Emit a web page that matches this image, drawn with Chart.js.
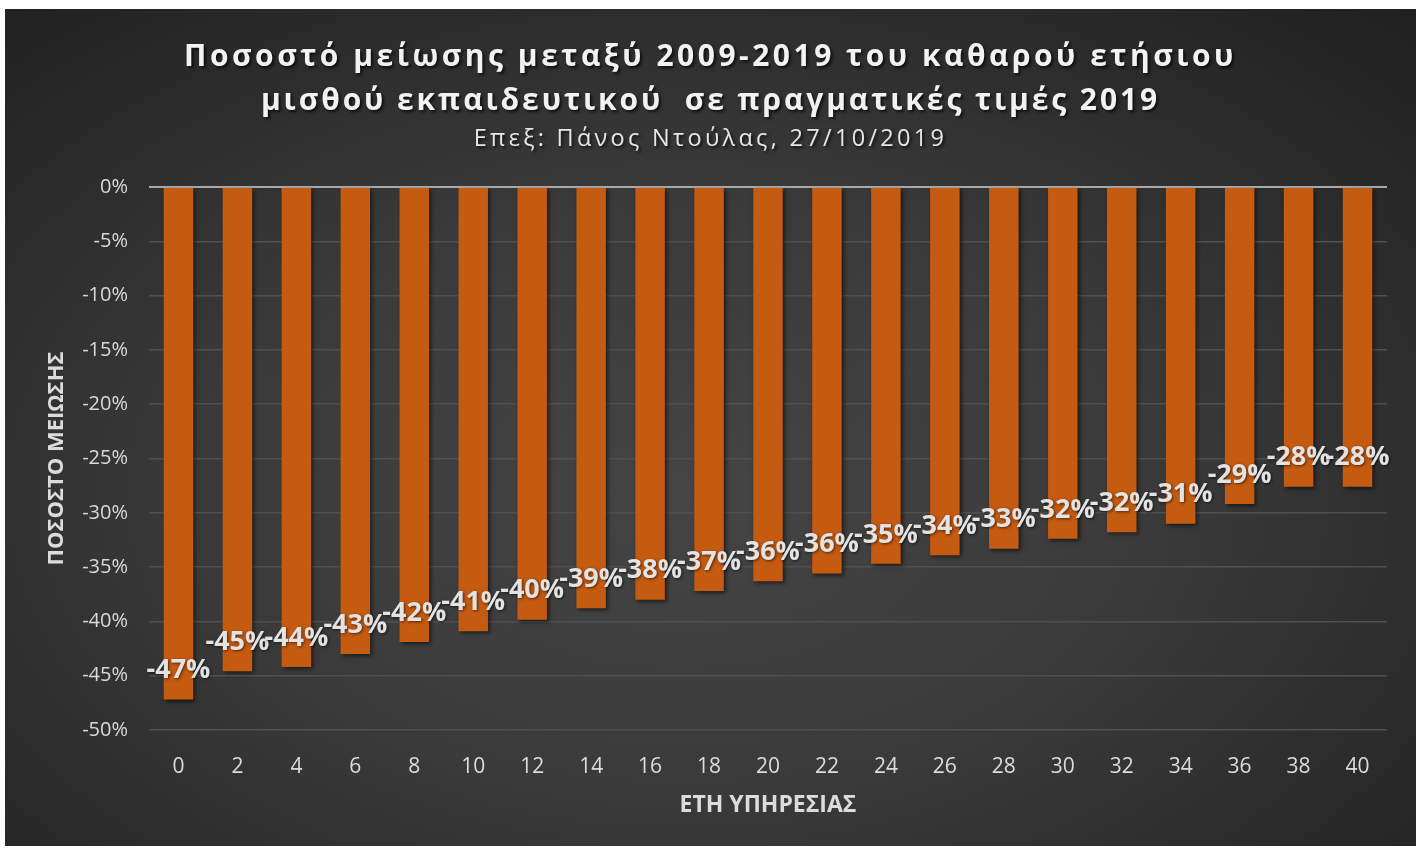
<!DOCTYPE html>
<html>
<head>
<meta charset="utf-8">
<script src="https://cdn.jsdelivr.net/npm/chart.js@4.4.0/dist/chart.umd.min.js"></script>
<style>
  html, body { margin:0; padding:0; background:#ffffff; width:1421px; height:849px; overflow:hidden; }
  #bg { position:absolute; left:5px; top:9px; width:1411px; height:837px;
        background: radial-gradient(ellipse 75% 80% at 48% 58%, #454545 0%, #3a3a3a 45%, #292929 80%, #202020 100%); }
  #wrap { position:absolute; left:0; top:0; width:1421px; height:849px; }
  .t { position:absolute; left:5px; width:1411px; text-align:center; color:#f2f2f2;
       font-family:"Open Sans", sans-serif; text-shadow: 2px 2px 3px rgba(0,0,0,0.7); white-space:pre; }
  #t1 { top:34px; font-size:30px; font-weight:bold; letter-spacing:3.5px; }
  #t2 { top:78px; font-size:30px; font-weight:bold; letter-spacing:2.9px; }
  #t3 { top:121px; font-size:23.5px; letter-spacing:3.3px; color:#e6e6e6; }
</style>
</head>
<body>
<div id="bg"></div>
<div id="wrap"><canvas id="c" width="1421" height="849"></canvas></div>
<div class="t" id="t1">Ποσοστό μείωσης μεταξύ 2009-2019 του καθαρού ετήσιου</div>
<div class="t" id="t2">μισθού εκπαιδευτικού  σε πραγματικές τιμές 2019</div>
<div class="t" id="t3">Επεξ: Πάνος Ντούλας, 27/10/2019</div>
<script>
const years = ['0','2','4','6','8','10','12','14','16','18','20','22','24','26','28','30','32','34','36','38','40'];
const reduction = [-47.2,-44.6,-44.2,-43.0,-41.9,-40.9,-39.85,-38.8,-38.0,-37.2,-36.3,-35.6,-34.7,-33.9,-33.3,-32.4,-31.8,-31.0,-29.2,-27.6,-27.6];
const yTicks = [0,-5,-10,-15,-20,-25,-30,-35,-40,-45,-50];
const xTitle = 'ΕΤΗ ΥΠΗΡΕΣΙΑΣ';
const yTitle = 'ΠΟΣΟΣΤΟ ΜΕΙΩΣΗΣ';

const barShadow = {
  id:'barShadow',
  beforeDatasetsDraw(chart){ const c=chart.ctx; c.save(); c.shadowColor='rgba(0,0,0,0.55)'; c.shadowBlur=4; c.shadowOffsetX=2; c.shadowOffsetY=2; },
  afterDatasetsDraw(chart){ chart.ctx.restore(); }
};
const labels = {
  id:'labels',
  afterDatasetsDraw(chart){
    const c=chart.ctx; const meta=chart.getDatasetMeta(0);
    c.save();
    c.font='bold 27px "Open Sans", sans-serif';
    c.textAlign='center'; c.textBaseline='middle';
    c.fillStyle='#e3e3e3';
    c.shadowColor='rgba(0,0,0,0.6)'; c.shadowBlur=3; c.shadowOffsetX=1; c.shadowOffsetY=1;
    meta.data.forEach((bar,i)=>{
      c.fillText(Math.round(reduction[i])+'%', bar.x, bar.y-29);
    });
    c.restore();
  }
};

new Chart(document.getElementById('c'), {
  type:'bar',
  data:{ labels:years, datasets:[{ data:reduction, backgroundColor:'#c55a11', borderWidth:0, barPercentage:0.5, categoryPercentage:1.0 }] },
  plugins:[barShadow, labels],
  options:{
    responsive:false, animation:false,
    layout:{ padding:{ top:187, right:34, bottom:30, left:44 } },
    plugins:{ legend:{display:false}, tooltip:{enabled:false}, title:{display:false} },
    scales:{
      x:{
        grid:{ display:false, drawTicks:false },
        border:{ display:false },
        ticks:{ color:'#dcdcdc', font:{ family:'"Open Sans", sans-serif', size:21 }, padding:24 },
        title:{ display:true, text:xTitle, color:'#dcdcdc', font:{ family:'"Open Sans", sans-serif', size:23, weight:'bold' }, padding:0 },
        afterFit(s){ s.height = 89; }
      },
      y:{
        min:-50, max:0,
        afterBuildTicks(s){ s.ticks = yTicks.map(v=>({value:v})); },
        grid:{ drawTicks:false, color:(ctx)=> ctx.tick && ctx.tick.value===0 ? '#a8a8a8' : '#505050', lineWidth:(ctx)=> ctx.tick && ctx.tick.value===0 ? 2 : 1.5 },
        border:{ display:false },
        ticks:{ color:'#d9d9d9', font:{ family:'"Open Sans", sans-serif', size:20 }, padding:21, callback:(v)=> v+'%' },
        title:{ display:true, text:yTitle, color:'#dcdcdc', font:{ family:'"Open Sans", sans-serif', size:22, weight:'bold' }, padding:0 },
        afterFit(s){ s.width = 105; }
      }
    }
  }
});
</script>
</body>
</html>
